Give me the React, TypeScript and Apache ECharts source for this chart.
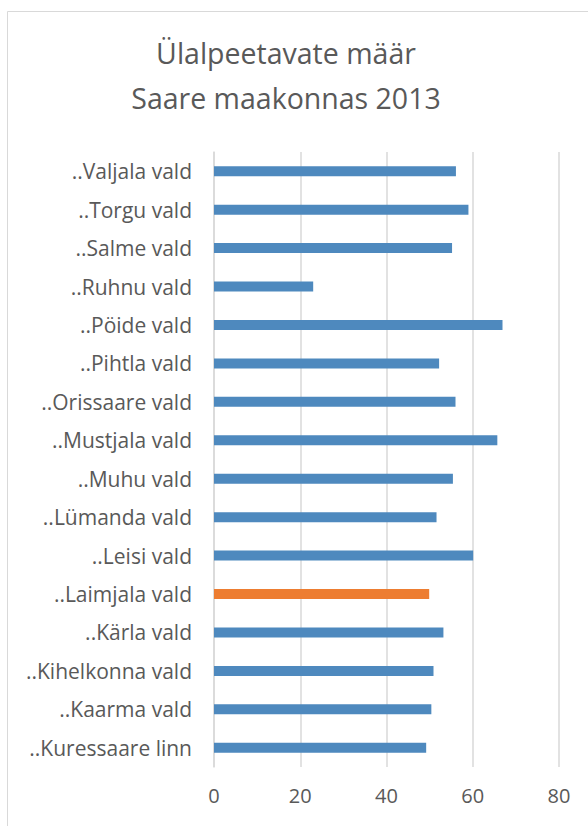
import React, { useEffect, useRef } from "react";
import * as echarts from "echarts";

const categories = [
  "..Kuressaare linn",
  "..Kaarma vald",
  "..Kihelkonna vald",
  "..Kärla vald",
  "..Laimjala vald",
  "..Leisi vald",
  "..Lümanda vald",
  "..Muhu vald",
  "..Mustjala vald",
  "..Orissaare vald",
  "..Pihtla vald",
  "..Pöide vald",
  "..Ruhnu vald",
  "..Salme vald",
  "..Torgu vald",
  "..Valjala vald",
];
const values = [49.2, 50.4, 50.9, 53.2, 49.9, 60.1, 51.6, 55.4, 65.7, 56.0, 52.2, 66.9, 23.0, 55.2, 59.0, 56.1];
const highlighted = "..Laimjala vald";
const xTicks = [0, 20, 40, 60, 80];
const titleLines = ["Ülalpeetavate määr", "Saare maakonnas 2013"];

const BLUE = "#4E89BE";
const ORANGE = "#ED7D31";
const TEXT = "#595959";

export default function App() {
  const ref = useRef<HTMLDivElement>(null);
  useEffect(() => {
    if (!ref.current) return;
    const chart = echarts.init(ref.current, null, { renderer: "svg" });
    chart.setOption({
      animation: false,
      backgroundColor: "#ffffff",
      textStyle: { fontFamily: "Open Sans" },
      graphic: [
        {
          type: "rect",
          shape: { x: 7.5, y: 11.5, width: 600, height: 840 },
          style: { fill: "none", stroke: "#d9d9d9", lineWidth: 1 },
          silent: true,
        },
        {
          type: "text",
          x: 286,
          y: 30,
          style: {
            text: titleLines.join("\n"),
            fill: TEXT,
            font: "28.5px 'Open Sans'",
            align: "center",
            verticalAlign: "top",
            lineHeight: 45,
          },
        },
      ],
      grid: { left: 214, right: 29, top: 152, bottom: 59, containLabel: false },
      xAxis: {
        type: "value",
        min: xTicks[0],
        max: xTicks[xTicks.length - 1],
        interval: 20,
        axisLine: { show: false },
        axisTick: { show: false },
        splitLine: { show: true, lineStyle: { color: "#d9d9d9", width: 1.5 } },
        axisLabel: { color: TEXT, fontSize: 20, margin: 18, fontFamily: "Open Sans" },
      },
      yAxis: {
        type: "category",
        data: categories,
        axisLine: { show: true, lineStyle: { color: "#d9d9d9", width: 1.5 } },
        axisTick: { show: false },
        axisLabel: { color: TEXT, fontSize: 21, margin: 22, fontFamily: "Open Sans" },
      },
      series: [
        {
          type: "bar",
          data: values.map((v, i) => ({
            value: v,
            itemStyle: { color: categories[i] === highlighted ? ORANGE : BLUE },
          })),
          barWidth: 10,
        },
      ],
    });
    return () => chart.dispose();
  }, []);
  return (
    <div
      ref={ref}
      style={{ position: "absolute", left: 0, top: 0, width: 588, height: 826 }}
    />
  );
}
